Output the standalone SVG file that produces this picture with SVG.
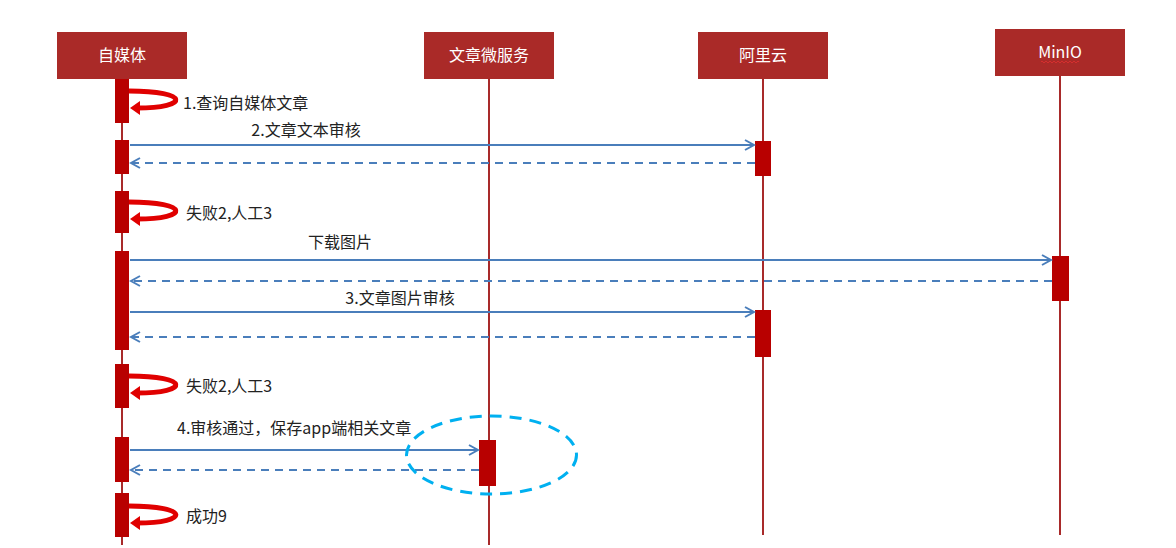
<svg xmlns="http://www.w3.org/2000/svg" width="1176" height="548" viewBox="0 0 1176 548">
<defs>
<style>
.hdr{fill:#aa2a28}
.hdrt{font-family:"Noto Sans CJK SC","Liberation Sans",sans-serif;font-size:16px;fill:#ffffff;text-anchor:middle}
.life{stroke:#a82a2a;stroke-width:2;fill:none}
.act{fill:#b80000}
.msg{stroke:#4a7ebb;stroke-width:2;fill:none}
.ret{stroke:#4a7ebb;stroke-width:2;fill:none;stroke-dasharray:8,6}
.lbl{font-family:"Noto Sans CJK SC","Liberation Sans",sans-serif;font-size:16px;fill:#222222}
.lblc{font-family:"Noto Sans CJK SC","Liberation Sans",sans-serif;font-size:16px;fill:#222222;text-anchor:middle}
.curlband{stroke:#e00000;stroke-width:5;fill:none}
.curlhead{fill:#e00000}
</style>
<marker id="open" markerWidth="12" markerHeight="12" refX="10" refY="6" orient="auto" markerUnits="userSpaceOnUse">
<path d="M1,1 L10,6 L1,11" fill="none" stroke="#4a7ebb" stroke-width="2"/>
</marker>
<g id="curl">
<path class="curlband" d="M129,3 C190,3 190,20 137,20"/>
<polygon class="curlhead" points="130,20 140,13 140,27"/>
</g>
</defs>

<g id="node-zimeiti">
<rect class="hdr" x="57" y="32" width="130" height="47"/>
<text class="hdrt" x="122" y="61">自媒体</text>
<line class="life" x1="122" y1="79" x2="122" y2="545"/>
</g>
<g id="node-wenzhang">
<rect class="hdr" x="424" y="32" width="130" height="47"/>
<text class="hdrt" x="489" y="61">文章微服务</text>
<line class="life" x1="489" y1="79" x2="489" y2="545"/>
</g>
<g id="node-aliyun">
<rect class="hdr" x="698" y="32" width="130" height="47"/>
<text class="hdrt" x="763" y="61">阿里云</text>
<line class="life" x1="763" y1="79" x2="763" y2="535"/>
</g>
<g id="node-minio">
<rect class="hdr" x="995" y="29" width="130" height="47"/>
<text class="hdrt" x="1060" y="58" font-family="Liberation Sans, sans-serif" font-size="15">MinIO</text>
<path d="M1041,62 q1,-2 2,0 t2,0 t2,0 t2,0 t2,0 t2,0 t2,0 t2,0 t2,0 t2,0 t2,0 t2,0 t2,0 t2,0 t2,0 t2,0 t2,0 t2,0 t2,0" fill="none" stroke="#e03030" stroke-width="0.8"/>
<line class="life" x1="1060" y1="76" x2="1060" y2="535"/>
</g>

<g id="activations">
<rect class="act" x="115" y="79" width="14" height="44"/>
<rect class="act" x="115" y="140" width="14" height="34"/>
<rect class="act" x="115" y="191" width="14" height="42"/>
<rect class="act" x="115" y="251" width="14" height="99"/>
<rect class="act" x="115" y="364" width="14" height="44"/>
<rect class="act" x="115" y="437" width="14" height="45"/>
<rect class="act" x="115" y="493" width="14" height="44"/>
<rect class="act" x="755" y="141" width="16" height="35"/>
<rect class="act" x="755" y="310" width="16" height="47"/>
<rect class="act" x="1052" y="256" width="17" height="45"/>
<rect class="act" x="479" y="440" width="17" height="46"/>
</g>

<g id="connectors">
<line class="msg" x1="130" y1="145" x2="754" y2="145" marker-end="url(#open)"/>
<line class="ret" x1="755" y1="163" x2="131" y2="163" marker-end="url(#open)"/>
<line class="msg" x1="130" y1="260" x2="1051" y2="260" marker-end="url(#open)"/>
<line class="ret" x1="1052" y1="281" x2="131" y2="281" marker-end="url(#open)"/>
<line class="msg" x1="130" y1="312" x2="754" y2="312" marker-end="url(#open)"/>
<line class="ret" x1="755" y1="337" x2="131" y2="337" marker-end="url(#open)"/>
<line class="msg" x1="130" y1="450" x2="478" y2="450" marker-end="url(#open)"/>
<line class="ret" x1="479" y1="470" x2="131" y2="470" marker-end="url(#open)"/>
<use href="#curl" x="0" y="88"/>
<use href="#curl" x="0" y="199"/>
<use href="#curl" x="0" y="373"/>
<use href="#curl" x="0" y="503"/>
</g>

<g id="labels">
<text class="lbl" x="183" y="109">1.查询自媒体文章</text>
<text class="lblc" x="306" y="136">2.文章文本审核</text>
<text class="lbl" x="186" y="219">失败2,人工3</text>
<text class="lblc" x="340" y="248">下载图片</text>
<text class="lblc" x="400" y="304">3.文章图片审核</text>
<text class="lbl" x="186" y="392">失败2,人工3</text>
<text class="lbl" x="177" y="434">4.审核通过，保存app端相关文章</text>
<text class="lbl" x="186" y="522">成功9</text>
</g>

<g id="highlight">
<ellipse cx="491.5" cy="455" rx="85" ry="39" fill="none" stroke="#00b0f0" stroke-width="3" stroke-dasharray="12,8"/>
</g>
</svg>
